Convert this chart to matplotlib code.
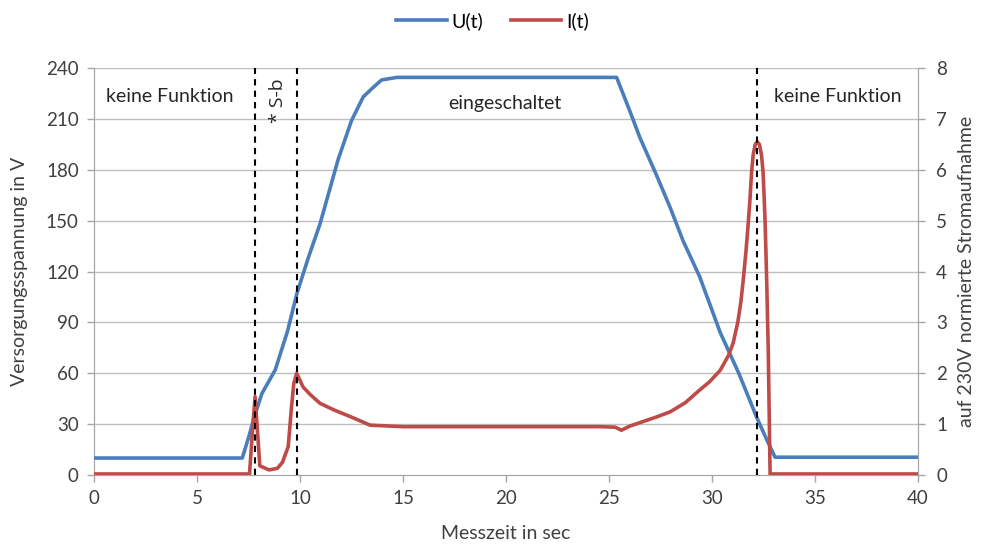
import matplotlib
matplotlib.use("Agg")
import matplotlib.pyplot as plt

plt.rcParams['font.family'] = ['Lato', 'DejaVu Sans']

# Voltage U(t) [V]
t_u = [0, 7.2, 7.55, 7.8, 8.15, 8.8, 9.4, 9.85, 10.4, 10.97, 11.85, 12.5, 13.07, 13.5, 13.96, 14.7, 20, 25.0, 25.37,
       26.0, 26.5, 27.3, 27.96, 28.6, 29.4, 30.4, 31.3, 32.17, 32.65, 33.06, 35, 40]
u_vals = [10, 10, 24, 35, 48, 62, 85, 107, 128, 148, 186, 209, 223, 228, 233, 234.5, 234.5, 234.5, 234.5,
          215, 199, 177, 158, 138, 117, 84, 60, 34, 21, 10.5, 10.5, 10.5]

# Current I(t) normalised [-]
t_i = [0, 7.55, 7.7, 7.82, 7.93, 8.05, 8.5, 8.9, 9.15, 9.43, 9.58, 9.7, 9.84, 10.15, 10.5, 10.97, 11.7, 12.43,
       13.4, 15, 20, 24.56, 25.3, 25.6, 26.0, 26.65, 27.3, 27.96, 28.7, 29.4, 29.9, 30.4, 30.8, 31.03, 31.25,
       31.4, 31.5, 31.65, 31.75, 31.84, 31.92, 32.0, 32.1, 32.2, 32.3, 32.4, 32.48, 32.57, 32.65, 32.73, 32.82,
       35, 40]
i_vals = [0.02, 0.02, 0.9, 1.54, 0.9, 0.18, 0.1, 0.13, 0.25, 0.56, 1.3, 1.8, 2.0, 1.73, 1.58, 1.41, 1.27, 1.15,
          0.98, 0.95, 0.95, 0.95, 0.94, 0.88, 0.96, 1.05, 1.14, 1.24, 1.42, 1.67, 1.84, 2.06, 2.35, 2.6, 3.0,
          3.4, 3.77, 4.4, 4.9, 5.4, 5.95, 6.3, 6.5, 6.55, 6.5, 6.3, 5.95, 5.07, 3.9, 2.46, 0.02,
          0.02, 0.02]

markers_t = [7.8, 9.85, 32.2]

x_ticks = [0, 5, 10, 15, 20, 25, 30, 35, 40]
u_ticks = [0, 30, 60, 90, 120, 150, 180, 210, 240]
i_ticks = [0, 1, 2, 3, 4, 5, 6, 7, 8]

blue = '#4A7EBB'
red = '#BE4B48'
grey = '#A6A6A6'
txt = '#404040'
fs = 14
tfs = 13.5

fig = plt.figure(figsize=(9.85, 5.49), dpi=100)
ax = fig.add_axes([0.0954, 0.1348, 0.8366, 0.7412])
ax2 = ax.twinx()

ax.set_xlim(0, 40)
ax.set_ylim(0, 240)
ax2.set_ylim(0, 8)

for y in u_ticks[1:]:
    ax.axhline(y, color='#BFBFBF', lw=1.0, zorder=0)

l1, = ax2.plot([], [], color=blue, lw=2.6, label='U(t)')
ax2.plot(t_u, [v / 30 for v in u_vals], color=blue, lw=2.6, zorder=3)
l2, = ax2.plot(t_i, i_vals, color=red, lw=2.6, label='I(t)', zorder=4)

for xm in markers_t:
    ax2.axvline(xm, color='black', lw=1.5, ls=(0, (3, 2.5)), zorder=5)

ax.set_xticks(x_ticks)
ax.set_yticks(u_ticks)
ax2.set_yticks(i_ticks)

for a in (ax, ax2):
    for s in a.spines.values():
        s.set_color(grey)
    a.spines['top'].set_visible(False)
    a.tick_params(colors=txt, labelsize=tfs, length=5, width=1, direction='out')
    a.tick_params(axis='both', color=grey)
ax.tick_params(axis='y', pad=6)
ax2.tick_params(axis='y', pad=8)
ax.tick_params(axis='x', pad=6)

ax.set_xlabel('Messzeit in sec', fontsize=fs, color=txt, labelpad=13)
ax.set_ylabel('Versorgungsspannung in V', fontsize=fs, color=txt, labelpad=13)
ax2.set_ylabel('auf 230V normierte Stromaufnahme', fontsize=fs, color=txt, rotation=90, labelpad=8)

ax.text(3.7, 223, 'keine Funktion', fontsize=fs, color='#262626', ha='center', va='center')
ax.text(19.95, 219, 'eingeschaltet', fontsize=fs, color='#262626', ha='center', va='center')
ax.text(36.1, 223, 'keine Funktion', fontsize=fs, color='#262626', ha='center', va='center')
ax.text(8.95, 221, '* S-b', fontsize=fs, color='#262626', ha='center', va='center', rotation=90,
        family=['Open Sans', 'DejaVu Sans'])

fig.legend(handles=[l1, l2], loc='center', bbox_to_anchor=(0.5, 0.962), ncol=2, frameon=False,
           fontsize=fs, handlelength=2.6, handletextpad=0.25, columnspacing=1.4)

fig.savefig('out.png', dpi=100)
